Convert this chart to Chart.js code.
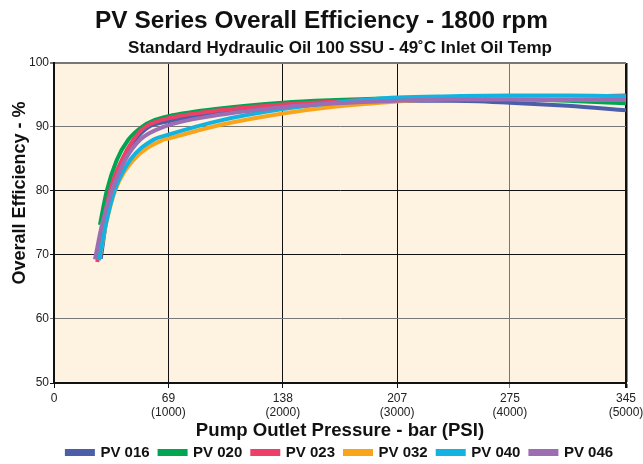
<!DOCTYPE html>
<html><head><meta charset="utf-8">
<script src="https://cdn.jsdelivr.net/npm/chart.js@4.4.1/dist/chart.umd.min.js"></script>
<style>html,body{margin:0;padding:0;background:#fff}</style>
</head><body>
<canvas id="c" width="643" height="464"></canvas>
<script>
// ---- data ----
const seriesNames = ['PV 016', 'PV 020', 'PV 023', 'PV 032', 'PV 040', 'PV 046'];
const seriesColors = ['#4B5EAA', '#00A551', '#EC4068', '#F8A51C', '#12B3E0', '#9C6DB3'];

const pv016X = [28.2, 30.8, 34.3, 41.5, 49, 57, 69, 100, 138, 170, 207, 240, 275, 310, 345];
const pv016Y = [69.4, 74.2, 80.0, 84.8, 88.0, 90.0, 90.9, 92.3, 93.3, 93.8, 94.1, 94.1, 93.8, 93.3, 92.6];

const pv020X = [27.7, 31.8, 37.8, 44.8, 52.9, 60.9, 69, 100, 138, 170, 207, 240, 275, 310, 345];
const pv020Y = [74.7, 80.0, 84.8, 88.0, 90.0, 91.1, 91.7, 92.9, 93.8, 94.2, 94.5, 94.6, 94.4, 94.1, 93.7];

const pv023X = [26.1, 29.5, 33.8, 40.8, 47.8, 54.9, 65, 100, 138, 170, 207, 240, 275, 310, 345];
const pv023Y = [68.9, 74.5, 80.0, 84.8, 88.0, 90.0, 91.1, 92.6, 93.5, 94.0, 94.3, 94.5, 94.6, 94.7, 94.9];

const pv032X = [27.5, 31.5, 36.8, 47.8, 65.9, 69, 100, 138, 170, 207, 240, 275, 310, 345];
const pv032Y = [69.6, 75.0, 80.0, 84.8, 88.0, 88.2, 90.3, 92.1, 93.2, 94.0, 94.4, 94.6, 94.5, 94.4];

const pv040X = [27.1, 31.0, 36.4, 45.8, 59.9, 69, 100, 138, 170, 207, 240, 275, 310, 345];
const pv040Y = [69.2, 74.5, 80.0, 84.8, 88.0, 88.8, 91.0, 92.8, 93.8, 94.6, 94.8, 94.9, 94.9, 94.8];

const pv046X = [24.7, 29.0, 34.8, 42.8, 51.9, 66, 100, 138, 170, 207, 240, 275, 310, 345];
const pv046Y = [69.3, 74.8, 80.0, 84.8, 88.0, 90.0, 91.9, 93.1, 93.7, 94.1, 94.3, 94.3, 94.2, 94.2];

const xTickValues = [0, 69, 138, 207, 275, 345];
const xTickBar = ['0', '69', '138', '207', '275', '345'];
const xTickPsi = ['', '(1000)', '(2000)', '(3000)', '(4000)', '(5000)'];

const titleText = 'PV Series Overall Efficiency - 1800 rpm';
const subtitleText = 'Standard Hydraulic Oil 100 SSU - 49\u02DAC Inlet Oil Temp';
const xTitleText = 'Pump Outlet Pressure - bar (PSI)';
const yTitleText = 'Overall Efficiency - %';

// ---- build ----
const xs = [pv016X, pv020X, pv023X, pv032X, pv040X, pv046X];
const ys = [pv016Y, pv020Y, pv023Y, pv032Y, pv040Y, pv046Y];
const FONT = "'Liberation Sans', Arial, Helvetica, sans-serif";

const datasets = seriesNames.map((name, i) => ({
  label: name,
  data: xs[i].map((x, j) => ({ x: x, y: ys[i][j] })),
  borderColor: seriesColors[i],
  backgroundColor: seriesColors[i],
  borderWidth: 4,
  pointRadius: 0,
  cubicInterpolationMode: 'monotone',
  fill: false,
  order: seriesNames.length - i
}));

const plotBg = {
  id: 'plotBg',
  beforeDraw(chart) {
    const { ctx, chartArea: a } = chart;
    ctx.save();
    ctx.fillStyle = '#FEF3E1';
    ctx.fillRect(a.left, a.top, a.right - a.left, a.bottom - a.top);
    ctx.restore();
  }
};
const yTitle = {
  id: 'yTitle',
  afterDraw(chart) {
    const { ctx } = chart;
    ctx.save();
    ctx.translate(20, 193);
    ctx.rotate(-Math.PI / 2);
    ctx.font = "bold 18px " + FONT;
    ctx.fillStyle = '#111';
    ctx.textAlign = 'center';
    ctx.textBaseline = 'middle';
    ctx.fillText(yTitleText, 0, 0);
    ctx.restore();
  }
};

Chart.defaults.font.family = FONT;
Chart.defaults.color = '#1a1a1a';

new Chart(document.getElementById('c'), {
  type: 'line',
  data: { datasets },
  plugins: [plotBg, yTitle],
  options: {
    responsive: false,
    animation: false,
    layout: { padding: { left: 0, right: 0, top: 0, bottom: 0 } },
    plugins: {
      title: {
        display: true, text: titleText, color: '#111',
        font: { size: 24.4, weight: 'bold' },
        padding: { top: 7, bottom: 0 }
      },
      subtitle: {
        display: true, text: subtitleText, color: '#111', fullSize: false,
        font: { size: 17, weight: 'bold' },
        padding: { top: 2, bottom: 4.3 }
      },
      legend: {
        position: 'bottom', fullSize: false, maxHeight: 29,
        labels: {
          boxWidth: 26, boxHeight: 3, padding: 10, color: '#111',
          font: { size: 15, weight: 'bold' },
          sort: (a, b) => a.datasetIndex - b.datasetIndex
        }
      },
      tooltip: { enabled: false }
    },
    scales: {
      x: {
        type: 'linear', min: 0, max: 345,
        afterBuildTicks: (s) => { s.ticks = xTickValues.map(v => ({ value: v })); },
        afterFit: (s) => { s.height = 52; s.paddingRight = 17; s.paddingLeft = 0; },
        ticks: {
          autoSkip: false, maxRotation: 0, padding: 3, color: '#222',
          font: { size: 12 },
          callback: (v, i) => xTickPsi[i] ? [xTickBar[i], xTickPsi[i]] : xTickBar[i]
        },
        grid: {
          color: (c) => (c.tick && c.tick.value === 275) ? '#777' : '#111',
          lineWidth: (c) => (c.tick && c.tick.value === 345) ? 2.5 : 1,
          tickLength: 5
        },
        border: { color: '#111', width: 2 },
        title: {
          display: true, text: xTitleText, color: '#111',
          font: { size: 18.6, weight: 'bold' },
          padding: { top: 0, bottom: -6.6 }
        }
      },
      y: {
        min: 50, max: 100,
        afterFit: (s) => { s.width = 54; },
        ticks: { stepSize: 10, padding: 1, color: '#222', font: { size: 12 } },
        grid: {
          color: (c) => {
            const v = c.tick && c.tick.value;
            return (v === 90 || v === 60 || v === 100) ? '#777' : '#111';
          },
          lineWidth: (c) => (c.tick && c.tick.value === 100) ? 2 : 1,
          tickLength: 4
        },
        border: { color: '#111', width: 2 }
      }
    }
  }
});
</script>
</body></html>
